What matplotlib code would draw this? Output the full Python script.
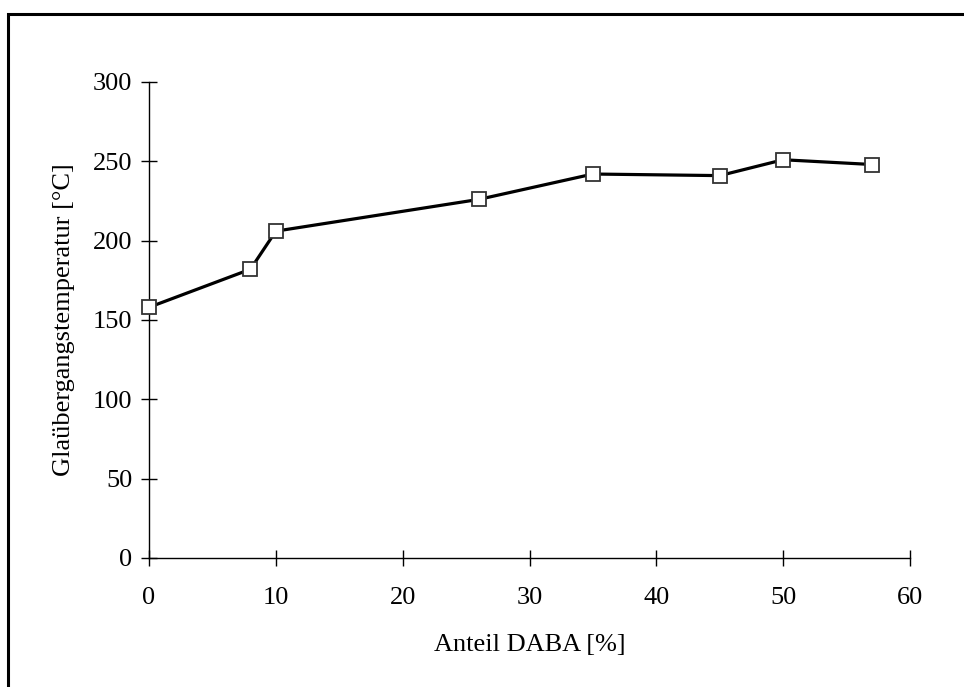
import matplotlib
matplotlib.use("Agg")
import matplotlib.pyplot as plt
from matplotlib.patches import Rectangle

daba = [0, 8, 10, 26, 35, 45, 50, 57]
tg = [158, 182, 206, 226, 242, 241, 251, 248]
xticks = [0, 10, 20, 30, 40, 50, 60]
yticks = [0, 50, 100, 150, 200, 250, 300]

plt.rcParams['font.family'] = ['Liberation Serif', 'DejaVu Serif']

fig = plt.figure(figsize=(9.64, 6.87), dpi=100)
ax = fig.add_axes([149/964, (687-558)/687, (910-149)/964, (558-82)/687])

ax.plot(daba, tg, color='black', lw=2.3, marker='s', markersize=10,
        markerfacecolor='white', markeredgecolor='#333333', markeredgewidth=1.3,
        clip_on=False, zorder=5)

ax.set_xlim(0, 60)
ax.set_ylim(0, 300)
ax.set_xticks(xticks)
ax.set_yticks(yticks)
for s in ['top', 'right']:
    ax.spines[s].set_visible(False)
for s in ['left', 'bottom']:
    ax.spines[s].set_linewidth(1.0)
ax.tick_params(direction='inout', length=12, width=1.0, labelsize=19)
ax.tick_params(axis='x', pad=15)
ax.tick_params(axis='y', pad=6)
ax.set_xlabel('Anteil DABA [%]', fontsize=19, labelpad=18)
ax.set_ylabel('Glaübergangstemperatur [°C]', fontsize=19, labelpad=13)

fig.patches.append(Rectangle((8/964, -0.1), 1.2, 1.1 - 14/687, transform=fig.transFigure,
                             fill=False, edgecolor='black', linewidth=2.2))

fig.savefig('out.png', dpi=100)
